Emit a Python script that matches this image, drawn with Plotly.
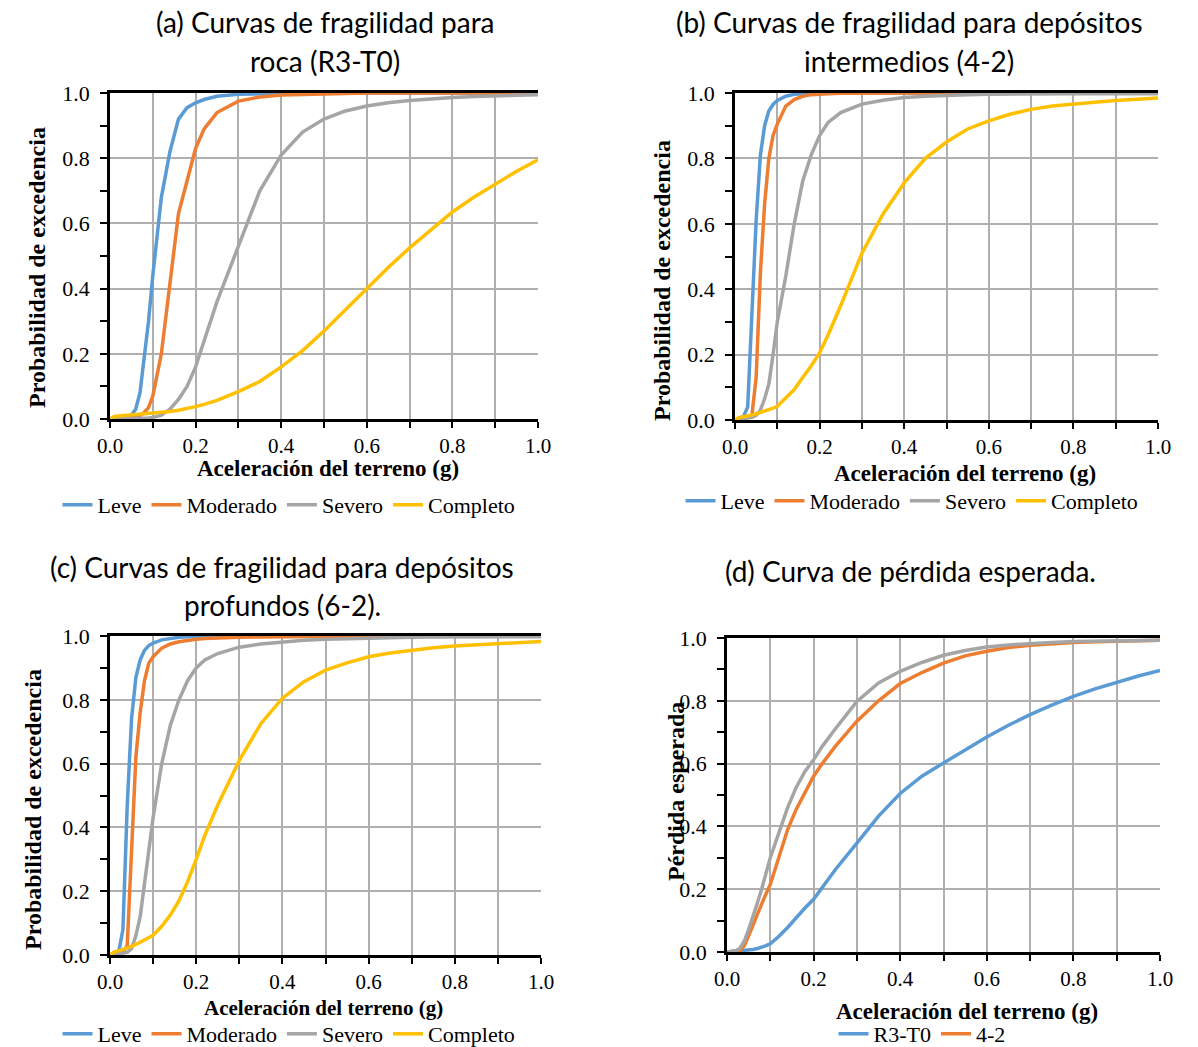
import plotly.graph_objects as go

# ---------------- data ----------------
X = [0, 0.01, 0.02, 0.03, 0.04, 0.05, 0.06, 0.07, 0.08, 0.09, 0.10, 0.12, 0.14, 0.16, 0.18,
     0.20, 0.22, 0.25, 0.30, 0.35, 0.40, 0.45, 0.50, 0.55, 0.60, 0.65, 0.70, 0.75, 0.80,
     0.85, 0.90, 0.95, 1.00]

damage_states = ["Leve", "Moderado", "Severo", "Completo"]

# (a) roca (R3-T0)
a_leve = [0, 0.002, 0.003, 0.004, 0.006, 0.012, 0.03, 0.08, 0.18, 0.30, 0.44, 0.68, 0.82, 0.92, 0.955,
          0.97, 0.98, 0.99, 0.996, 0.998, 0.999, 1, 1, 1, 1, 1, 1, 1, 1, 1, 1, 1, 1]
a_moderado = [0, 0.002, 0.003, 0.003, 0.004, 0.005, 0.007, 0.01, 0.02, 0.035, 0.07, 0.20, 0.42, 0.63, 0.73,
              0.83, 0.89, 0.94, 0.975, 0.988, 0.994, 0.996, 0.998, 0.999, 1, 1, 1, 1, 1, 1, 1, 1, 1]
a_severo = [0, 0.001, 0.001, 0.001, 0.002, 0.002, 0.002, 0.003, 0.003, 0.003, 0.005, 0.012, 0.03, 0.06, 0.10,
            0.16, 0.24, 0.36, 0.53, 0.70, 0.81, 0.88, 0.92, 0.945, 0.96, 0.97, 0.977, 0.982, 0.986,
            0.989, 0.991, 0.993, 0.995]
a_completo = [0, 0.008, 0.009, 0.010, 0.011, 0.012, 0.013, 0.014, 0.015, 0.016, 0.017, 0.020, 0.023, 0.027,
              0.032, 0.038, 0.045, 0.057, 0.084, 0.115, 0.16, 0.21, 0.27, 0.335, 0.40, 0.465, 0.525,
              0.58, 0.635, 0.68, 0.72, 0.76, 0.795]

# (b) depósitos intermedios (4-2)
b_leve = [0, 0.005, 0.01, 0.04, 0.32, 0.61, 0.81, 0.90, 0.945, 0.965, 0.977, 0.99, 0.996, 0.998, 0.999,
          1, 1, 1, 1, 1, 1, 1, 1, 1, 1, 1, 1, 1, 1, 1, 1, 1, 1]
b_moderado = [0, 0.003, 0.005, 0.008, 0.015, 0.13, 0.45, 0.66, 0.80, 0.87, 0.905, 0.96, 0.98, 0.99, 0.995,
              0.997, 0.998, 0.999, 1, 1, 1, 1, 1, 1, 1, 1, 1, 1, 1, 1, 1, 1, 1]
b_severo = [0, 0.002, 0.003, 0.005, 0.008, 0.014, 0.03, 0.065, 0.11, 0.20, 0.30, 0.44, 0.60, 0.73, 0.81,
            0.87, 0.91, 0.94, 0.966, 0.978, 0.986, 0.99, 0.993, 0.995, 0.996, 0.997, 0.997, 0.998,
            0.998, 0.998, 0.998, 0.998, 0.998]
b_completo = [0, 0.008, 0.010, 0.012, 0.015, 0.019, 0.023, 0.027, 0.031, 0.036, 0.042, 0.066, 0.093, 0.13,
              0.165, 0.205, 0.26, 0.35, 0.51, 0.63, 0.725, 0.80, 0.85, 0.89, 0.915, 0.935, 0.95, 0.96,
              0.967, 0.972, 0.977, 0.981, 0.985]

# (c) depósitos profundos (6-2)
c_leve = [0, 0.003, 0.008, 0.08, 0.47, 0.74, 0.87, 0.925, 0.955, 0.97, 0.978, 0.988, 0.993, 0.996, 0.998,
          0.999, 1, 1, 1, 1, 1, 1, 1, 1, 1, 1, 1, 1, 1, 1, 1, 1, 1]
c_moderado = [0, 0.002, 0.004, 0.007, 0.03, 0.33, 0.62, 0.76, 0.86, 0.915, 0.935, 0.962, 0.975, 0.982, 0.987,
              0.99, 0.992, 0.994, 0.996, 0.997, 0.998, 0.999, 0.999, 1, 1, 1, 1, 1, 1, 1, 1, 1, 1]
c_severo = [0, 0.002, 0.003, 0.004, 0.008, 0.02, 0.06, 0.12, 0.22, 0.33, 0.43, 0.60, 0.72, 0.80, 0.86,
            0.90, 0.925, 0.945, 0.965, 0.975, 0.982, 0.987, 0.99, 0.992, 0.994, 0.995, 0.996, 0.997,
            0.997, 0.998, 0.998, 0.998, 0.998]
c_completo = [0, 0.010, 0.013, 0.017, 0.022, 0.027, 0.033, 0.040, 0.046, 0.053, 0.062, 0.09, 0.125, 0.17,
              0.23, 0.30, 0.375, 0.47, 0.61, 0.725, 0.805, 0.857, 0.893, 0.916, 0.935, 0.947, 0.956,
              0.963, 0.969, 0.973, 0.977, 0.98, 0.983]

# (d) curva de pérdida esperada
d_names = ["R3-T0", "4-2", "6-2"]
d_r3t0 = [0, 0.001, 0.002, 0.003, 0.004, 0.006, 0.008, 0.011, 0.015, 0.02, 0.026, 0.05, 0.078, 0.11, 0.14,
          0.168, 0.205, 0.262, 0.347, 0.433, 0.505, 0.56, 0.602, 0.645, 0.685, 0.722, 0.756, 0.786,
          0.814, 0.838, 0.859, 0.879, 0.897]
d_42 = [0, 0.001, 0.002, 0.005, 0.02, 0.05, 0.085, 0.12, 0.155, 0.185, 0.215, 0.30, 0.39, 0.455, 0.51,
        0.56, 0.60, 0.655, 0.735, 0.80, 0.855, 0.89, 0.92, 0.943, 0.958, 0.97, 0.977, 0.982, 0.986,
        0.988, 0.99, 0.992, 0.993]
d_62 = [0, 0.002, 0.004, 0.012, 0.035, 0.072, 0.11, 0.155, 0.20, 0.25, 0.30, 0.38, 0.46, 0.525, 0.575,
        0.612, 0.655, 0.71, 0.798, 0.857, 0.894, 0.922, 0.945, 0.96, 0.971, 0.978, 0.983, 0.986,
        0.989, 0.99, 0.991, 0.992, 0.993]

xtick_vals = [0, 0.2, 0.4, 0.6, 0.8, 1.0]
ytick_vals = [0, 0.2, 0.4, 0.6, 0.8, 1.0]

# ---------------- styling ----------------
COLORS = ["#5B9BD5", "#ED7D31", "#A5A5A5", "#FFC000"]
SERIF = "Liberation Serif"
SANS = "Lato"
W, H = 1198, 1047
GRID = "#AFAFAF"

fig = go.Figure()

panels = [
    ("", "", [a_leve, a_moderado, a_severo, a_completo], damage_states, "legend"),
    ("2", "2", [b_leve, b_moderado, b_severo, b_completo], damage_states, "legend2"),
    ("3", "3", [c_leve, c_moderado, c_severo, c_completo], damage_states, "legend3"),
    ("4", "4", [d_r3t0, d_42, d_62], d_names, "legend4"),
]

for ax, ay, series, names, leg in panels:
    for i, (ys, nm) in enumerate(zip(series, names)):
        fig.add_trace(go.Scatter(
            x=X, y=ys, name=nm, mode="lines",
            line=dict(color=COLORS[i], width=3.5),
            xaxis="x" + ax, yaxis="y" + ay, legend=leg,
            showlegend=not (leg == "legend4" and nm == "6-2"),
        ))

# pixel boxes of the plot areas: (left, right, top, bottom)
boxes = [(110, 538, 93, 419), (735, 1158, 93, 420), (110, 541, 636, 955), (727, 1160, 638, 952)]

def px_x(p):
    return p / W

def px_y(p):
    return 1 - p / H

layout = dict(
    width=W, height=H, margin=dict(l=0, r=0, t=0, b=0, pad=0, autoexpand=False),
    paper_bgcolor="white", plot_bgcolor="white", showlegend=True,
)

for k, (l, r, t, b) in enumerate(boxes):
    sfx = "" if k == 0 else str(k + 1)
    layout["xaxis" + sfx] = dict(
        domain=[px_x(l), px_x(r)], anchor="y" + sfx, range=[0, 1.0],
        tickvals=xtick_vals, tickformat=".1f",
        showgrid=True, gridcolor=GRID, gridwidth=1.5,
        minor=dict(dtick=0.1, tick0=0, showgrid=True, gridcolor=GRID, gridwidth=1.5,
                   ticks="outside", ticklen=6, tickcolor="black", tickwidth=1.5),
        showline=True, linecolor="black", linewidth=2.5, mirror=True,
        ticks="outside", ticklen=6, tickcolor="black", tickwidth=1.5,
        tickfont=dict(family=SERIF, size=21, color="black"),
        ticklabelstandoff=0, zeroline=False, fixedrange=True, automargin=False,
    )
    layout["yaxis" + sfx] = dict(
        domain=[px_y(b), px_y(t)], anchor="x" + sfx, range=[0, 1.0],
        tickvals=ytick_vals, tickformat=".1f",
        showgrid=True, gridcolor=GRID, gridwidth=1.5,
        minor=dict(dtick=0.1, tick0=0, showgrid=False,
                   ticks="outside", ticklen=7, tickcolor="black", tickwidth=1.5),
        showline=True, linecolor="black", linewidth=2.5,
        ticks="outside", ticklen=7, tickcolor="black", tickwidth=1.5,
        tickfont=dict(family=SERIF, size=22, color="black"),
        ticklabelstandoff=6, zeroline=False, fixedrange=True, automargin=False,
    )

leg_common = dict(orientation="h", xanchor="center", yanchor="middle",
                  font=dict(family=SERIF, size=22, color="black"),
                  bgcolor="rgba(0,0,0,0)", tracegroupgap=0)
layout["legend"] = dict(leg_common, x=px_x(289), y=px_y(505))
layout["legend2"] = dict(leg_common, x=px_x(912), y=px_y(501))
layout["legend3"] = dict(leg_common, x=px_x(289), y=px_y(1034))
layout["legend4"] = dict(leg_common, x=px_x(922), y=px_y(1034))

fig.update_layout(**layout)

ann = []
def add_text(txt, x, y, fam, size, bold=False, angle=0):
    ann.append(dict(text=("<b>%s</b>" % txt) if bold else txt, x=px_x(x), y=px_y(y),
                    xref="paper", yref="paper", showarrow=False, textangle=angle,
                    xanchor="center", yanchor="middle",
                    font=dict(family=fam, size=size, color="black")))

# titles
TS = 28
add_text("(a) Curvas de fragilidad para", 325, 22, SANS, TS)
add_text("roca (R3-T0)", 325, 61, SANS, TS)
add_text("(b) Curvas de fragilidad para depósitos", 909, 22, SANS, TS)
add_text("intermedios (4-2)", 909, 61, SANS, TS)
add_text("(c) Curvas de fragilidad para depósitos", 282, 567, SANS, TS)
add_text("profundos (6-2).", 282, 605, SANS, TS)
add_text("(d) Curva de pérdida esperada.", 910, 571, SANS, TS)

# axis titles
add_text("Aceleración del terreno (g)", 328, 469, SERIF, 23, bold=True)
add_text("Aceleración del terreno (g)", 965, 473, SERIF, 23, bold=True)
add_text("Aceleración del terreno (g)", 323, 1008, SERIF, 21, bold=True)
add_text("Aceleración del terreno (g)", 967, 1011, SERIF, 23, bold=True)
add_text("Probabilidad de excedencia", 37, 268, SERIF, 24, bold=True, angle=-90)
add_text("Probabilidad de excedencia", 662, 281, SERIF, 24, bold=True, angle=-90)
add_text("Probabilidad de excedencia", 33, 810, SERIF, 24, bold=True, angle=-90)
add_text("Pérdida esperada", 676, 792, SERIF, 24, bold=True, angle=-90)

fig.update_layout(annotations=ann)

fig.write_html("out.html", config={"displayModeBar": False},
               post_script="document.body.style.margin='0';document.body.style.overflow='hidden';")
